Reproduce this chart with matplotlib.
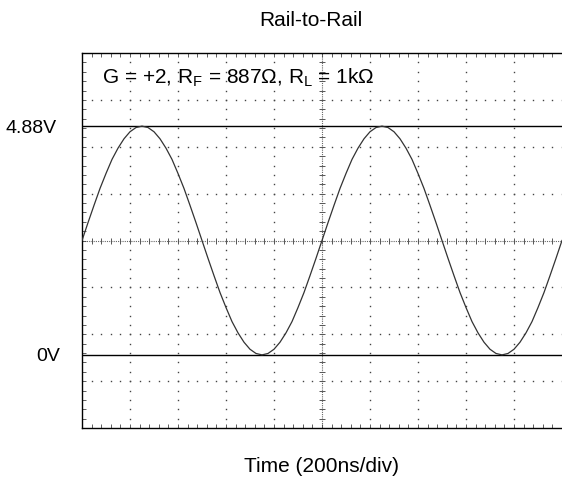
import matplotlib
matplotlib.use("Agg")
import matplotlib.pyplot as plt
import numpy as np

plt.rcParams['font.family'] = ['Liberation Sans', 'DejaVu Sans']

# --- data ---
time_ns = list(range(0, 2001, 25))
voltage = [
    2.44, 2.82, 3.19, 3.55, 3.87, 4.17, 4.41, 4.61, 4.76, 4.85,
    4.88, 4.85, 4.76, 4.61, 4.41, 4.17, 3.87, 3.55, 3.19, 2.82,
    2.44, 2.06, 1.69, 1.33, 1.01, 0.71, 0.47, 0.27, 0.12, 0.03,
    0.00, 0.03, 0.12, 0.27, 0.47, 0.71, 1.01, 1.33, 1.69, 2.06,
    2.44, 2.82, 3.19, 3.55, 3.87, 4.17, 4.41, 4.61, 4.76, 4.85,
    4.88, 4.85, 4.76, 4.61, 4.41, 4.17, 3.87, 3.55, 3.19, 2.82,
    2.44, 2.06, 1.69, 1.33, 1.01, 0.71, 0.47, 0.27, 0.12, 0.03,
    0.00, 0.03, 0.12, 0.27, 0.47, 0.71, 1.01, 1.33, 1.69, 2.06,
    2.44,
]
rail_levels = [4.88, 0.0]
rail_labels = ["4.88V", "0V"]
title = "Rail-to-Rail"
xlabel = "Time (200ns/div)"
annotation = r"G = +2, R$_\mathregular{F}$ = 887Ω, R$_\mathregular{L}$ = 1kΩ"

# scope settings
t_div = 200.0      # ns / div
v_div = 1.0        # V / div
n_xdiv, n_ydiv = 10, 8
v_center = 2.44

W, H = 562, 478
fig = plt.figure(figsize=(W / 100, H / 100), dpi=100)
ax = fig.add_axes([82 / W, 50 / H, 480 / W, 375 / H])

x0, x1 = 0.0, n_xdiv * t_div
y0 = v_center - n_ydiv / 2 * v_div
y1 = v_center + n_ydiv / 2 * v_div
ax.set_xlim(x0, x1)
ax.set_ylim(y0, y1)

xmaj = [x0 + i * t_div for i in range(n_xdiv + 1)]
ymaj = [y0 + i * v_div for i in range(n_ydiv + 1)]
xmin = [x0 + i * t_div / 5 for i in range(n_xdiv * 5 + 1)]
ymin = [y0 + i * v_div / 5 for i in range(n_ydiv * 5 + 1)]

dotc = '#444444'
# dotted graticule
for xv in xmaj[1:-1]:
    if abs(xv - (x0 + x1) / 2) < 1e-6:
        continue
    ax.plot([xv] * len(ymin), ymin, ls='none', marker='s', ms=1.0, mew=0, color=dotc, zorder=1)
for yv in ymaj[1:-1]:
    if abs(yv - v_center) < 1e-6:
        continue
    ax.plot(xmin, [yv] * len(xmin), ls='none', marker='s', ms=1.0, mew=0, color=dotc, zorder=1)

# center cross with ticks
xc = (x0 + x1) / 2
ax.plot([x0, x1], [v_center, v_center], color='#666666', lw=0.8, ls=(0, (1, 1)), zorder=1)
ax.plot([xc, xc], [y0, y1], color='#666666', lw=0.8, ls=(0, (1, 1)), zorder=1)
ax.plot(xmin, [v_center] * len(xmin), ls='none', marker='|', ms=5, mew=0.7, color='#555555', zorder=1)
ax.plot([xc] * len(ymin), ymin, ls='none', marker='_', ms=5, mew=0.7, color='#555555', zorder=1)

# rail lines
for lv in rail_levels:
    ax.axhline(lv, color='black', lw=1.0, zorder=2)

# trace
ax.plot(time_ns, voltage, color='#333333', lw=0.9, zorder=3)

# border ticks
ax.set_xticks(xmin)
ax.set_yticks(ymin)
ax.tick_params(axis='both', which='major', direction='in', length=3, width=0.6,
               color='#444444', top=True, bottom=True, left=True, right=False,
               labelbottom=False, labelleft=False)
for s in ['left', 'bottom', 'top']:
    ax.spines[s].set_linewidth(1.0)
ax.spines['right'].set_visible(False)

# texts
fig.text(311 / W, 1 - 26 / H, title, ha='center', va='baseline', fontsize=15)
fig.text(322 / W, 1 - 472 / H, xlabel, ha='center', va='baseline', fontsize=15)
fig.text(102 / W, 1 - 83 / H, annotation, ha='left', va='baseline', fontsize=15)
fig.text(5 / W, 1 - 133 / H, rail_labels[0], ha='left', va='baseline', fontsize=14)
fig.text(36 / W, 1 - 361 / H, rail_labels[1], ha='left', va='baseline', fontsize=14)

fig.savefig("out.png", dpi=100)
